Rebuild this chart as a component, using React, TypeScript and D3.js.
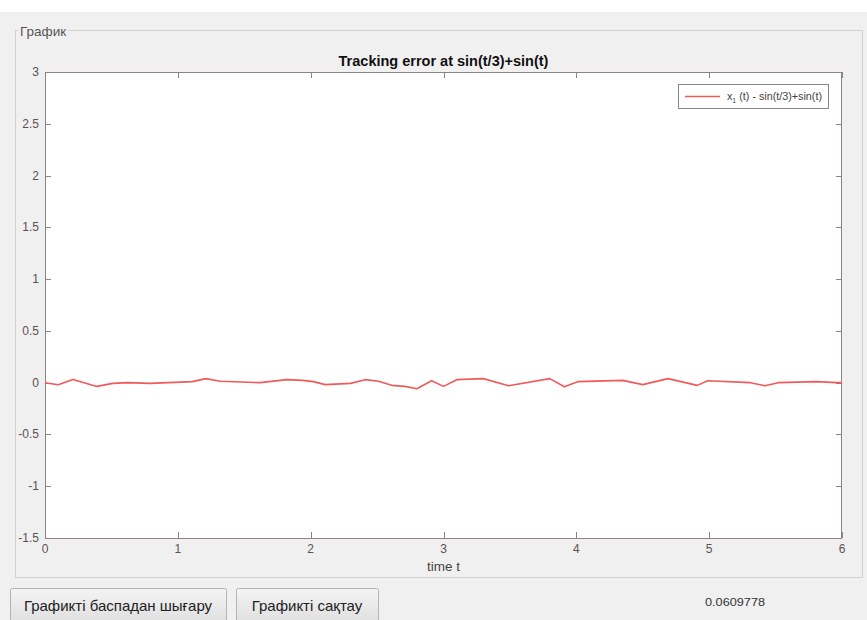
import React, { useRef, useEffect } from 'react';
import * as d3 from 'd3';

// error samples: time and x1(t) - (sin(t/3)+sin(t))
const times = [0, 0.1, 0.21, 0.39, 0.51, 0.62, 0.79, 1.11, 1.21, 1.32, 1.62, 1.82, 1.94, 2.02, 2.11, 2.3, 2.41, 2.51, 2.61, 2.71, 2.8, 2.91, 3.0, 3.1, 3.3, 3.49, 3.8, 3.91, 4.01, 4.35, 4.5, 4.69, 4.91, 4.99, 5.31, 5.42, 5.52, 5.81, 5.96, 6.0];
const errors = [0.0, -0.02, 0.03, -0.036, -0.007, 0.0, -0.007, 0.01, 0.039, 0.013, 0.0, 0.029, 0.022, 0.01, -0.019, -0.007, 0.029, 0.013, -0.026, -0.036, -0.058, 0.019, -0.036, 0.029, 0.039, -0.029, 0.039, -0.039, 0.01, 0.022, -0.019, 0.039, -0.026, 0.019, 0.0, -0.029, 0.0, 0.01, 0.0, 0.0];
const xTicks = [0, 1, 2, 3, 4, 5, 6];
const yTicks = [-1.5, -1, -0.5, 0, 0.5, 1, 1.5, 2, 2.5, 3];

const W = 867;
const H = 620;
const FONT = '"Liberation Sans", Arial, sans-serif';

const Chart = () => {
  const svgRef = useRef<SVGSVGElement>(null);

  useEffect(() => {
    const svg = d3.select(svgRef.current);
    svg.selectAll('*').remove();

    const left = 45, right = 842, top = 72, bottom = 538;
    const x = d3.scaleLinear().domain([0, 6]).range([left, right]);
    const y = d3.scaleLinear().domain([-1.5, 3]).range([bottom, top]);

    // window background
    svg.append('rect').attr('width', W).attr('height', H).attr('fill', '#f0f0f0');
    svg.append('rect').attr('width', W).attr('height', 12).attr('fill', '#ffffff');

    // group box "График"
    svg.append('rect')
      .attr('x', 15.5).attr('y', 30.5)
      .attr('width', 847).attr('height', 547)
      .attr('fill', 'none').attr('stroke', '#d4d0cc');
    svg.append('rect').attr('x', 18).attr('y', 22).attr('width', 50).attr('height', 16).attr('fill', '#f0f0f0');
    svg.append('text')
      .attr('x', 20).attr('y', 36)
      .attr('font-family', FONT).attr('font-size', 13.5).attr('fill', '#555')
      .text('График');

    // plot area
    svg.append('rect')
      .attr('x', left).attr('y', top)
      .attr('width', right - left).attr('height', bottom - top)
      .attr('fill', '#ffffff');

    const axisColor = '#8c8480';
    const g = svg.append('g').attr('font-family', FONT);

    // box + inward ticks (MATLAB style)
    g.append('rect')
      .attr('x', left + 0.5).attr('y', top + 0.5)
      .attr('width', right - left - 1).attr('height', bottom - top)
      .attr('fill', 'none').attr('stroke', axisColor);

    xTicks.forEach((t) => {
      const px = Math.round(x(t)) + 0.5;
      g.append('line').attr('x1', px).attr('x2', px).attr('y1', bottom).attr('y2', bottom - 6).attr('stroke', axisColor);
      g.append('line').attr('x1', px).attr('x2', px).attr('y1', top).attr('y2', top + 6).attr('stroke', axisColor);
      g.append('text')
        .attr('x', x(t)).attr('y', bottom + 15)
        .attr('text-anchor', 'middle').attr('font-size', 12).attr('fill', '#5a5252')
        .text(String(t));
    });

    yTicks.forEach((v) => {
      const py = Math.round(y(v)) + 0.5;
      g.append('line').attr('x1', left).attr('x2', left + 6).attr('y1', py).attr('y2', py).attr('stroke', axisColor);
      g.append('line').attr('x1', right).attr('x2', right - 6).attr('y1', py).attr('y2', py).attr('stroke', axisColor);
      g.append('text')
        .attr('x', left - 6).attr('y', y(v) + 4)
        .attr('text-anchor', 'end').attr('font-size', 12).attr('fill', '#5a5252')
        .text(String(v));
    });

    // title and x label
    g.append('text')
      .attr('x', (left + right) / 2).attr('y', 66)
      .attr('text-anchor', 'middle').attr('font-size', 14.5).attr('font-weight', 'bold').attr('fill', '#111')
      .text('Tracking error at sin(t/3)+sin(t)');
    g.append('text')
      .attr('x', (left + right) / 2).attr('y', 571)
      .attr('text-anchor', 'middle').attr('font-size', 13.5).attr('fill', '#444')
      .text('time t');

    // error line
    const pts: [number, number][] = times.map((t, i) => [t, errors[i]]);
    const line = d3.line<[number, number]>().x((d) => x(d[0])).y((d) => y(d[1]));
    g.append('path')
      .datum(pts)
      .attr('d', line)
      .attr('fill', 'none')
      .attr('stroke', '#f05a5a')
      .attr('stroke-width', 1.6)
      .attr('stroke-linejoin', 'round');

    // legend
    const lg = g.append('g');
    lg.append('rect')
      .attr('x', 678.5).attr('y', 84.5).attr('width', 150).attr('height', 24)
      .attr('fill', '#fff').attr('stroke', '#888');
    lg.append('line')
      .attr('x1', 685).attr('x2', 720).attr('y1', 96.5).attr('y2', 96.5)
      .attr('stroke', '#f05a5a').attr('stroke-width', 1.4);
    const lt = lg.append('text')
      .attr('x', 727).attr('y', 100)
      .attr('font-size', 10).attr('fill', '#444')
      .attr('textLength', 95).attr('lengthAdjust', 'spacingAndGlyphs');
    lt.append('tspan').text('x');
    lt.append('tspan').attr('font-size', 6.5).attr('dy', 2.5).text('1');
    lt.append('tspan').attr('dy', -2.5).text(' (t) - sin(t/3)+sin(t)');

    // buttons
    const buttons = [
      { x: 10, w: 216, label: 'Графикті баспадан шығару' },
      { x: 236, w: 142, label: 'Графикті сақтау' },
    ];
    const grad = svg.append('defs').append('linearGradient')
      .attr('id', 'btn').attr('x1', 0).attr('x2', 0).attr('y1', 0).attr('y2', 1);
    grad.append('stop').attr('offset', '0%').attr('stop-color', '#f4f4f4');
    grad.append('stop').attr('offset', '100%').attr('stop-color', '#dedede');
    buttons.forEach((b) => {
      svg.append('rect')
        .attr('x', b.x + 0.5).attr('y', 588.5).attr('width', b.w).attr('height', 36)
        .attr('rx', 2).attr('fill', 'url(#btn)').attr('stroke', '#b4b4b4');
      svg.append('text')
        .attr('x', b.x + b.w / 2).attr('y', 611)
        .attr('text-anchor', 'middle').attr('font-family', FONT).attr('font-size', 15).attr('fill', '#222')
        .text(b.label);
    });

    svg.append('text')
      .attr('x', 705).attr('y', 606)
      .attr('font-family', FONT).attr('font-size', 11).attr('fill', '#333')
      .attr('textLength', 60).attr('lengthAdjust', 'spacingAndGlyphs')
      .text('0.0609778');
  }, []);

  return <svg ref={svgRef} width={W} height={H} style={{ display: 'block' }}></svg>;
};

export default function App() {
  return (
    <div style={{ position: 'absolute', left: 0, top: 0 }}>
      <Chart />
    </div>
  );
}
